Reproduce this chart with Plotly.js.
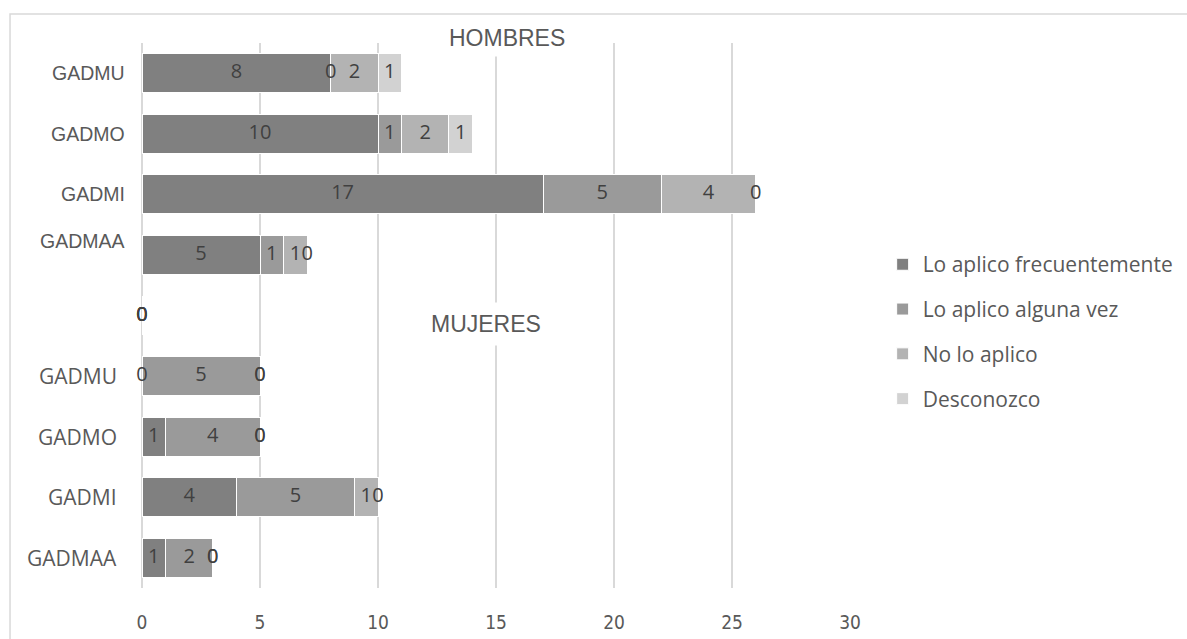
<!DOCTYPE html>
<html>
<head>
<meta charset="utf-8">
<script src="https://cdn.plot.ly/plotly-3.0.1.min.js"></script>
<style>
  html, body { margin: 0; padding: 0; background: #ffffff; }
  #chart { width: 1187px; height: 639px; }
</style>
</head>
<body>
<div id="chart"></div>
<script>
// ---- Data ----
const centres = ["GADMU", "GADMO", "GADMI", "GADMAA"];   // top-to-bottom within each group
const seriesNames = ["Lo aplico frecuentemente", "Lo aplico alguna vez", "No lo aplico", "Desconozco"];

// HOMBRES
const hFrecuente = [8, 10, 17, 5];
const hAlgunaVez = [0, 1, 5, 1];
const hNoAplico  = [2, 2, 4, 1];
const hDesconozco = [1, 1, 0, 0];

// MUJERES
const mFrecuente = [0, 1, 4, 1];
const mAlgunaVez = [5, 4, 5, 2];
const mNoAplico  = [0, 0, 1, 0];
const mDesconozco = [0, 0, 0, 0];

// separator row between the two groups (all zeros)
const sepValues = [0, 0, 0, 0];

const groupTitles = ["HOMBRES", "MUJERES"];
const xTicks = [0, 5, 10, 15, 20, 25, 30];

// ---- Styles ----
const colors = ["#808080", "#9a9a9a", "#b3b3b3", "#d2d2d2"];
const gridColor = "#d9d9d9";
const labelColor = "#404040";
const axisTextColor = "#595959";

// ---- Build row keys (bottom-to-top for Plotly) ----
const hKeys = centres.map(c => "H " + c);
const mKeys = centres.map(c => "M " + c);
const sepKey = "sep";
const rowOrder = [...mKeys.slice().reverse(), sepKey, ...hKeys.slice().reverse()];

const hSeries = [hFrecuente, hAlgunaVez, hNoAplico, hDesconozco];
const mSeries = [mFrecuente, mAlgunaVez, mNoAplico, mDesconozco];

const traces = [];
// bars
for (let s = 0; s < 4; s++) {
  const y = [...hKeys, sepKey, ...mKeys];
  const x = [...hSeries[s], sepValues[s], ...mSeries[s]];
  traces.push({
    type: "bar", orientation: "h", name: seriesNames[s],
    x: x, y: y, legendgroup: "g" + s,
    marker: { color: colors[s], line: { color: "#ffffff", width: 1 } },
    hoverinfo: "x+name"
  });
}
// data labels at segment centres
const allRows = [...hKeys, sepKey, ...mKeys];
const allSeries = [0, 1, 2, 3].map(s => [...hSeries[s], sepValues[s], ...mSeries[s]]);
for (let s = 0; s < 4; s++) {
  const xs = [], ys = [], ts = [];
  allRows.forEach((row, i) => {
    let base = 0;
    for (let k = 0; k < s; k++) base += allSeries[k][i];
    const v = allSeries[s][i];
    xs.push(base + v / 2); ys.push(row); ts.push(String(v));
  });
  traces.push({
    type: "scatter", mode: "text", x: xs, y: ys, text: ts,
    textposition: "middle center", showlegend: false, hoverinfo: "skip",
    cliponaxis: false, legendgroup: "g" + s,
    textfont: { family: "Open Sans, sans-serif", size: 20, color: labelColor }
  });
}

// category labels as annotations (two differently rendered groups)
const annotations = [];
hKeys.forEach((k, i) => {
  annotations.push({
    xref: "paper", yref: "y", x: -0.021, y: k, xanchor: "right", yanchor: "middle",
    text: centres[i], showarrow: false,
    yshift: (i === centres.length - 1) ? 14 : 0,
    font: { family: "Liberation Sans, Arial, sans-serif", size: 19.5, color: axisTextColor }
  });
});
mKeys.forEach((k, i) => {
  annotations.push({
    xref: "paper", yref: "y", x: -0.033, y: k, xanchor: "right", yanchor: "middle",
    text: centres[i], showarrow: false,
    font: { family: "Open Sans, sans-serif", size: 21, color: axisTextColor }
  });
});
// group titles
annotations.push({
  xref: "paper", yref: "paper", x: 0.5155, y: 1.009, xanchor: "center", yanchor: "middle",
  text: groupTitles[0], showarrow: false, bgcolor: "#ffffff", borderpad: 5,
  font: { family: "Liberation Sans, Arial, sans-serif", size: 23, color: axisTextColor }
});
annotations.push({
  xref: "paper", yref: "paper", x: 0.486, y: 0.4844, xanchor: "center", yanchor: "middle",
  text: groupTitles[1], showarrow: false, bgcolor: "#ffffff", borderpad: 8,
  font: { family: "Liberation Sans, Arial, sans-serif", size: 23, color: axisTextColor }
});

const layout = {
  width: 1187, height: 639,
  margin: { l: 142, r: 337, t: 43, b: 51, pad: 0, autoexpand: false },
  paper_bgcolor: "#ffffff", plot_bgcolor: "#ffffff",
  barmode: "stack", bargap: 0.355,
  showlegend: true,
  legend: {
    xref: "container", x: 0.7436, xanchor: "left",
    yref: "paper", y: 0.631, yanchor: "top",
    traceorder: "grouped", tracegroupgap: 14.5,
    font: { family: "Open Sans, sans-serif", size: 21, color: axisTextColor },
    bgcolor: "rgba(0,0,0,0)", borderwidth: 0
  },
  xaxis: {
    range: [0, 30], tickmode: "array", tickvals: xTicks, ticktext: xTicks.map(String),
    showgrid: true, gridcolor: gridColor, gridwidth: 1.5,
    zeroline: true, zerolinecolor: gridColor, zerolinewidth: 1.5,
    showline: false, ticks: "outside", ticklen: 17, tickcolor: "rgba(0,0,0,0)",
    tickfont: { family: "Liberation Sans Narrow, DejaVu Sans Condensed, Liberation Sans, sans-serif", size: 19, color: axisTextColor },
    fixedrange: true
  },
  yaxis: {
    type: "category", categoryorder: "array", categoryarray: rowOrder,
    showticklabels: false, showgrid: false, zeroline: false, showline: false, ticks: "",
    fixedrange: true
  },
  annotations: annotations,
  shapes: [{
    type: "rect", xref: "paper", yref: "paper",
    x0: -0.1864, x1: 2, y0: -1, y1: 1.0532,
    line: { color: gridColor, width: 1.5 }, fillcolor: "rgba(0,0,0,0)", layer: "below"
  }],
  hovermode: false
};

Plotly.newPlot("chart", traces, layout, { displayModeBar: false, staticPlot: true });
</script>
</body>
</html>
